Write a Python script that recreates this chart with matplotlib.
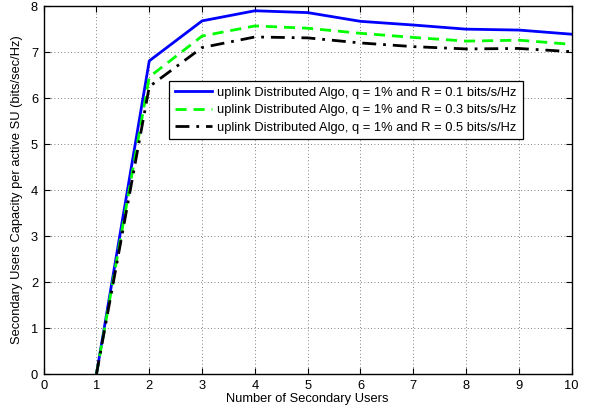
import numpy as np
import matplotlib
matplotlib.use("Agg")
import matplotlib.pyplot as plt

plt.rcParams["font.family"] = ["Liberation Sans", "DejaVu Sans"]

# ── data ─────────────────────────────────────────────────────────────────────
n_users = [1, 2, 3, 4, 5, 6, 7, 8, 9, 10]
cap_r01 = [0.0, 6.81, 7.68, 7.90, 7.86, 7.67, 7.59, 7.50, 7.48, 7.39]
cap_r03 = [0.0, 6.46, 7.35, 7.57, 7.52, 7.41, 7.32, 7.24, 7.26, 7.17]
cap_r05 = [0.0, 6.25, 7.10, 7.33, 7.31, 7.20, 7.12, 7.07, 7.08, 7.01]

labels = [
    "uplink Distributed Algo, q = 1% and R = 0.1 bits/s/Hz",
    "uplink Distributed Algo, q = 1% and R = 0.3 bits/s/Hz",
    "uplink Distributed Algo, q = 1% and R = 0.5 bits/s/Hz",
]

FS = 9.3

fig = plt.figure(figsize=(5.9, 4.11), dpi=100)
ax = fig.add_axes([0.074, 0.090, 0.895, 0.895])

ax.plot(n_users, cap_r01, color="#0000ff", lw=2.0, ls="-", label=labels[0])
ax.plot(n_users, cap_r03, color="#00ff00", lw=2.0, ls=(0, (4, 2.5)), label=labels[1])
ax.plot(n_users, cap_r05, color="black", lw=2.0, ls=(0, (5, 2.5, 1, 2.5)), label=labels[2])

ax.set_xlim(0, 10)
ax.set_ylim(0, 8)
ax.set_xticks(range(0, 11))
ax.set_yticks(range(0, 9))
ax.tick_params(direction="in", top=True, right=True, labelsize=FS, length=4, pad=4)
ax.grid(True, ls=(0, (1, 3)), color="#555555", lw=0.6)
for sp in ax.spines.values():
    sp.set_linewidth(1.0)

ax.set_xlabel("Number of Secondary Users", fontsize=FS, labelpad=1)
ax.set_ylabel("Secondary Users Capacity per active SU (bits/sec/Hz)", fontsize=FS, labelpad=6)

leg = ax.legend(loc="upper right", bbox_to_anchor=(0.907, 0.797), borderaxespad=0,
                fontsize=FS, fancybox=False, framealpha=1, edgecolor="black",
                handlelength=2.9, borderpad=0.45, labelspacing=0.42, handletextpad=0.4)
leg.get_frame().set_linewidth(0.9)

fig.savefig("out.png", dpi=100)
